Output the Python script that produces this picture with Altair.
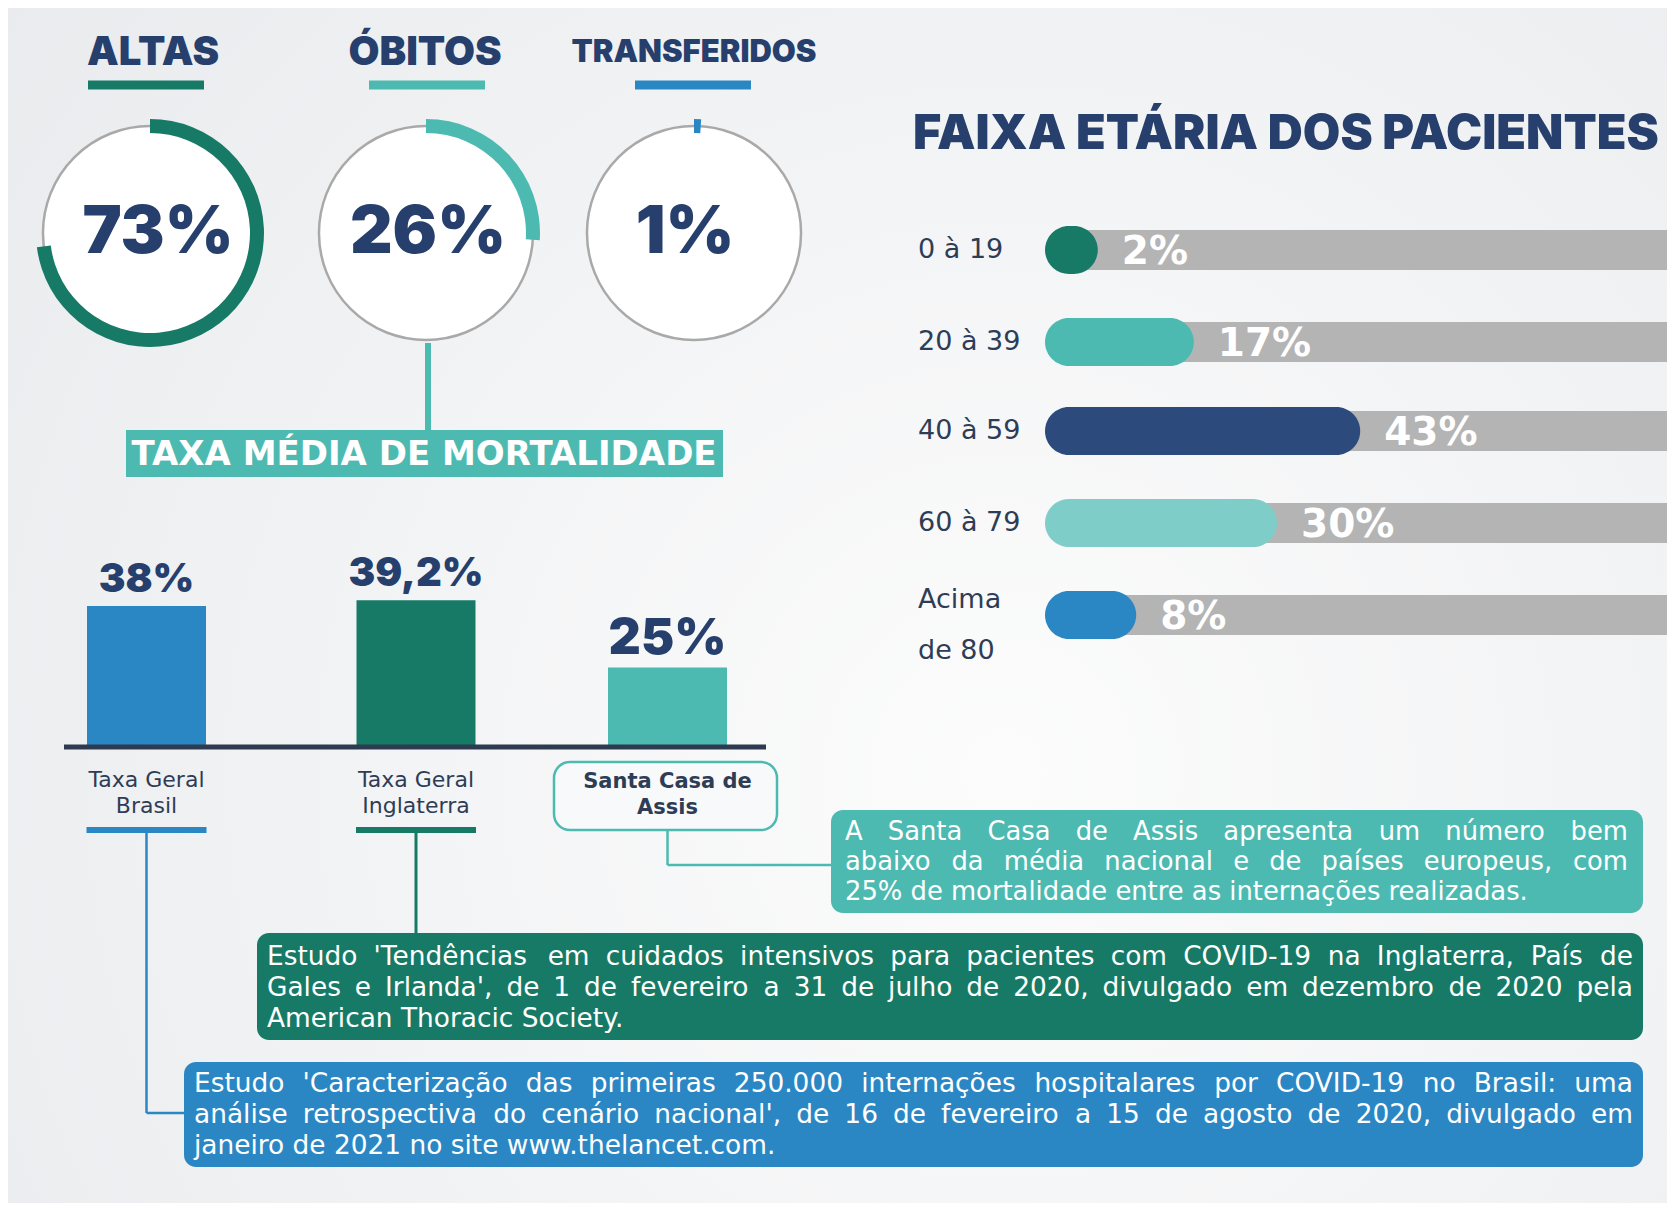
import unicodedata
import altair as alt
import pandas as pd

# ---------------- chart values ----------------
outcome_names = ["ALTAS", "ÓBITOS", "TRANSFERIDOS"]
outcome_pct = [73, 26, 1]

mortality_title = "TAXA MÉDIA DE MORTALIDADE"
mortality_names = ["Taxa Geral\nBrasil", "Taxa Geral\nInglaterra", "Santa Casa de\nAssis"]
mortality_pct = [38, 39.2, 25]
mortality_labels = ["38%", "39,2%", "25%"]

age_title = "FAIXA ETÁRIA DOS PACIENTES"
age_groups = ["0 à 19", "20 à 39", "40 à 59", "60 à 79", "Acima\nde 80"]
age_pct = [2, 17, 43, 30, 8]

note_santa = [
    "A Santa Casa de Assis apresenta um número bem",
    "abaixo da média nacional e de países europeus, com",
    "25% de mortalidade entre as internações realizadas.",
]
note_england = [
    "Estudo 'Tendências em cuidados intensivos para pacientes com COVID-19 na Inglaterra, País de",
    "Gales e Irlanda', de 1 de fevereiro a 31 de julho de 2020, divulgado em dezembro de 2020 pela",
    "American Thoracic Society.",
]
note_brazil = [
    "Estudo 'Caracterização das primeiras 250.000 internações hospitalares por COVID-19 no Brasil: uma",
    "análise retrospectiva do cenário nacional', de 16 de fevereiro a 15 de agosto de 2020, divulgado em",
    "janeiro de 2021 no site www.thelancet.com.",
]

# ---------------- styles ----------------
GREEN, TEAL, BLUE = "#177a66", "#4dbab2", "#2b87c4"
NAVY_BAR, LIGHT_TEAL = "#2c4b7c", "#7ecdc8"
TITLE_NAVY, TEXT_DARK = "#263f6c", "#2e3d55"
GRAY_BAR, RING_GRAY = "#b4b4b4", "#a9a9a9"
outcome_colors = [GREEN, TEAL, BLUE]
mortality_colors = [BLUE, GREEN, TEAL]
age_colors = [GREEN, TEAL, NAVY_BAR, LIGHT_TEAL, BLUE]
HEAD_FONT = "Inter"
WIDE_FONT = "DejaVu Sans"

# approximate DejaVu Sans advance widths (em) used to justify the note lines
_GLYPH = dict(a=.613, b=.635, c=.550, d=.635, e=.615, f=.352, g=.635, h=.634, i=.278, j=.278,
              k=.579, l=.278, m=.974, n=.634, o=.612, p=.635, q=.635, r=.411, s=.521, t=.392,
              u=.634, v=.592, w=.818, x=.592, y=.592, z=.525,
              A=.684, B=.686, C=.698, D=.770, E=.632, F=.575, G=.775, H=.752, I=.295, J=.295,
              K=.656, L=.557, M=.863, N=.748, O=.787, P=.603, Q=.787, R=.695, S=.635, T=.611,
              U=.732, V=.684, W=.989, X=.685, Y=.611, Z=.685)
_GLYPH.update({d: .636 for d in "0123456789"})
_GLYPH.update({" ": .318, ",": .318, ".": .318, "'": .275, ":": .337, "-": .361, "%": .950})


def text_width(s, size):
    total = 0.0
    for ch in s:
        base = unicodedata.normalize("NFD", ch)[0]
        total += _GLYPH.get(base, 0.6)
    return total * size


# ---------------- layout (page pixels) ----------------
W, H = 1659, 1195
X_MIN, Y_MIN = 8, 8
XS = alt.Scale(domain=[X_MIN, X_MIN + W], nice=False, zero=False)
YS = alt.Scale(domain=[Y_MIN, Y_MIN + H], nice=False, zero=False, reverse=True)


def ex(f):
    return alt.X(f, type="quantitative", scale=XS, axis=None)


def ey(f):
    return alt.Y(f, type="quantitative", scale=YS, axis=None)


def col(f):
    return alt.Color(f, type="nominal", scale=None, legend=None)


# outcome rings
ring_cx = [150, 426, 694]
RING_CY = 233
head_x = [153, 425, 694]
head_size = [40, 40, 31]
HEAD_Y = 53
uline_cx = [146, 427, 693]
ULINE_Y, ULINE_HALF = 85, 58
pct_dx = [8, 2, -9]

# mortality bars (infographic scale: offset + px per percentage point)
BASE_Y, BAR_HALF, PX_PER_PCT, PCT_OFFSET = 747, 59.5, 4.73, 8.2
bar_cx = [146.5, 416, 667.5]
bar_label_size = [40, 40, 50]

# age bars
AGE_X0, AGE_MIN_LEN, AGE_PX = 1045, 40, 6.4
age_row_y = [250, 342, 431, 523, 615]
age_label_y = [250, 342, 431, 523, 600]
GRAY_X0, GRAY_X1 = 1070, 1667

# ---------------- tables ----------------
df_out = pd.DataFrame({
    "name": outcome_names, "pct": outcome_pct, "color": outcome_colors,
    "cx": ring_cx, "cy": [RING_CY] * 3, "hx": head_x, "hy": [HEAD_Y] * 3, "hs": head_size,
    "u0": [c - ULINE_HALF for c in uline_cx], "u1": [c + ULINE_HALF for c in uline_cx],
    "uy": [ULINE_Y] * 3, "tx": [c + d for c, d in zip(ring_cx, pct_dx)],
})

df_mort = pd.DataFrame({
    "name": mortality_names, "pct": mortality_pct, "label": mortality_labels,
    "color": mortality_colors, "cx": bar_cx, "ls": bar_label_size, "idx": [0, 1, 2],
})

df_age = pd.DataFrame({
    "group": age_groups, "pct": age_pct, "color": age_colors,
    "y": age_row_y, "ly": age_label_y,
})

# (lines, colour, box x0, x1, y0, y1, text left, text right, line ys, font size)
notes = [(note_santa, TEAL, 831, 1643, 810, 913, 845, 1628, [831.5, 861.5, 891.5], 25.8),
         (note_england, GREEN, 257, 1643, 933, 1040, 267, 1633, [957, 988, 1019], 26.4),
         (note_brazil, BLUE, 184, 1643, 1062, 1167, 194, 1633, [1084, 1115, 1146], 26.4)]
df_boxes = pd.DataFrame([{"color": n[1], "x0": n[2], "x1": n[3], "y0": n[4], "y1": n[5]}
                         for n in notes])

line_rows = []
for (lines, _, _, _, _, _, tl, tr, lys, fs) in notes:
    for k, (t, ly) in enumerate(zip(lines, lys)):
        words = t.split(" ")
        if k == len(lines) - 1 or len(words) < 2:
            line_rows.append({"text": t, "x": tl, "y": ly, "fs": fs})
            continue
        widths = [text_width(w, fs) for w in words]
        gap = (tr - tl - sum(widths)) / (len(words) - 1)
        xpos = tl
        for w, wd in zip(words, widths):
            line_rows.append({"text": w, "x": xpos, "y": ly, "fs": fs})
            xpos += wd + gap
df_lines = pd.DataFrame(line_rows)

segments = pd.DataFrame([
    {"x": bar_cx[0], "y": 833, "x2": bar_cx[0], "y2": 1113, "color": BLUE, "w": 2.5},
    {"x": bar_cx[0], "y": 1113, "x2": 184, "y2": 1113, "color": BLUE, "w": 2.5},
    {"x": bar_cx[1], "y": 833, "x2": bar_cx[1], "y2": 933, "color": GREEN, "w": 3},
    {"x": bar_cx[2], "y": 830, "x2": bar_cx[2], "y2": 865, "color": TEAL, "w": 2.5},
    {"x": bar_cx[2], "y": 865, "x2": 831, "y2": 865, "color": TEAL, "w": 2.5},
    {"x": 428, "y": 343, "x2": 428, "y2": 430, "color": TEAL, "w": 6},
])

one = pd.DataFrame({"k": [0]})

# ---------------- layers ----------------
background = alt.Chart(one).mark_rect(
    fill={"gradient": "radial",
          "stops": [{"offset": 0, "color": "#fcfcfc"}, {"offset": 1, "color": "#e8eaed"}],
          "x1": 0.6, "y1": 0.6, "r1": 0, "x2": 0.6, "y2": 0.6, "r2": 0.8}
).encode(x=alt.value(0), x2=alt.value(W), y=alt.value(0), y2=alt.value(H))

heads = alt.Chart(df_out).mark_text(
    font=HEAD_FONT, fontWeight=900, color=TITLE_NAVY, align="center", baseline="middle"
).encode(x=ex("hx"), y=ey("hy"), text="name:N", size=alt.Size("hs:Q", scale=None, legend=None))

ulines = alt.Chart(df_out).mark_rule(strokeWidth=9).encode(
    x=ex("u0"), x2="u1:Q", y=ey("uy"), color=col("color"))

ring_bg = alt.Chart(df_out).transform_calculate(t0="0", t1="2*PI").mark_arc(
    fill="#ffffff", stroke=RING_GRAY, strokeWidth=2.5
).encode(x=ex("cx"), y=ey("cy"),
         theta=alt.Theta("t0:Q", scale=None), theta2=alt.Theta2("t1:Q"),
         radius=alt.value(107))

ring_fg = alt.Chart(df_out).transform_calculate(
    t0="0", t1="datum.pct / 100 * 2 * PI"
).mark_arc().encode(x=ex("cx"), y=ey("cy"),
                    theta=alt.Theta("t0:Q", scale=None), theta2=alt.Theta2("t1:Q"),
                    radius=alt.value(114), radius2=alt.value(100), color=col("color"))

ring_txt = alt.Chart(df_out).transform_calculate(lab="datum.pct + '%'").mark_text(
    font=HEAD_FONT, fontWeight=900, fontSize=66, color=TITLE_NAVY, baseline="middle"
).encode(x=ex("tx"), y=ey("cy"), text="lab:N")

connectors = alt.Chart(segments).mark_rule().encode(
    x=ex("x"), y=ey("y"), x2="x2:Q", y2="y2:Q", color=col("color"),
    strokeWidth=alt.StrokeWidth("w:Q", scale=None, legend=None))

taxa_box = alt.Chart(pd.DataFrame({"x0": [126], "x1": [723], "y0": [430], "y1": [477]})).mark_rect(
    color=TEAL).encode(x=ex("x0"), x2="x1:Q", y=ey("y0"), y2="y1:Q")
taxa_txt = alt.Chart(pd.DataFrame({"t": [mortality_title], "x": [424], "y": [455]})).mark_text(
    font=WIDE_FONT, fontWeight="bold", fontSize=34, color="#ffffff", baseline="middle"
).encode(x=ex("x"), y=ey("y"), text="t:N")

mort_base = alt.Chart(df_mort).transform_calculate(
    x0=f"datum.cx - {BAR_HALF}", x1=f"datum.cx + {BAR_HALF}",
    top=f"{BASE_Y} - (datum.pct - {PCT_OFFSET}) * {PX_PER_PCT}", base=f"{BASE_Y}",
    ly=f"{BASE_Y} - (datum.pct - {PCT_OFFSET}) * {PX_PER_PCT} - 14",
)
mort_bars = mort_base.mark_rect().encode(
    x=ex("x0"), x2="x1:Q", y=ey("top"), y2="base:Q", color=col("color"))
mort_vals = mort_base.mark_text(
    font=HEAD_FONT, fontWeight=900, color=TITLE_NAVY, baseline="alphabetic"
).encode(x=ex("cx"), y=ey("ly"), text="label:N", size=alt.Size("ls:Q", scale=None, legend=None))
axis_line = alt.Chart(pd.DataFrame({"x0": [64], "x1": [766], "y": [BASE_Y]})).mark_rule(
    strokeWidth=5, color="#2d3a4f").encode(x=ex("x0"), x2="x1:Q", y=ey("y"))

cat_base = alt.Chart(df_mort).transform_calculate(
    u0="datum.cx - 60", u1="datum.cx + 60", uy="830", ty="780")
cat_txt = cat_base.transform_filter("datum.idx < 2").mark_text(
    font=WIDE_FONT, fontSize=22, color=TEXT_DARK, lineBreak="\n",
    lineHeight=25.5, baseline="middle").encode(x=ex("cx"), y=ey("ty"), text="name:N")
cat_ul = cat_base.transform_filter("datum.idx < 2").mark_rule(strokeWidth=6).encode(
    x=ex("u0"), x2="u1:Q", y=ey("uy"), color=col("color"))
santa_box = alt.Chart(pd.DataFrame({"x0": [554], "x1": [777], "y0": [762], "y1": [830]})).mark_rect(
    fill="#f8f9fa", stroke=TEAL, strokeWidth=2.5, cornerRadius=16
).encode(x=ex("x0"), x2="x1:Q", y=ey("y0"), y2="y1:Q")
santa_txt = cat_base.transform_filter("datum.idx == 2").transform_calculate(ty2="782").mark_text(
    font=WIDE_FONT, fontWeight="bold", fontSize=21, color=TEXT_DARK, lineBreak="\n",
    lineHeight=26, baseline="middle").encode(x=ex("cx"), y=ey("ty2"), text="name:N")

note_boxes = alt.Chart(df_boxes).mark_rect(cornerRadius=12).encode(
    x=ex("x0"), x2="x1:Q", y=ey("y0"), y2="y1:Q", color=col("color"))
note_txt = alt.Chart(df_lines).mark_text(
    font=WIDE_FONT, color="#ffffff", align="left", baseline="middle"
).encode(x=ex("x"), y=ey("y"), text="text:N", size=alt.Size("fs:Q", scale=None, legend=None))

age_ttl = alt.Chart(pd.DataFrame({"t": [age_title], "x": [913], "y": [134]})).mark_text(
    font=HEAD_FONT, fontWeight=900, fontSize=48.5, color=TITLE_NAVY, align="left", baseline="middle"
).encode(x=ex("x"), y=ey("y"), text="t:N")

age_base = alt.Chart(df_age).transform_calculate(
    gx0=f"{GRAY_X0}", gx1=f"{GRAY_X1}", gy0="datum.y - 20", gy1="datum.y + 20",
    bx0=f"{AGE_X0}", bx1=f"{AGE_X0} + {AGE_MIN_LEN} + datum.pct * {AGE_PX}",
    by0="datum.y - 24", by1="datum.y + 24",
    vx=f"{AGE_X0} + {AGE_MIN_LEN} + datum.pct * {AGE_PX} + 24", vy="datum.y + 2",
    lx="918", lab="datum.pct + '%'",
)
age_gray = age_base.mark_rect(color=GRAY_BAR).encode(
    x=ex("gx0"), x2="gx1:Q", y=ey("gy0"), y2="gy1:Q")
age_bars = age_base.mark_rect(cornerRadius=24).encode(
    x=ex("bx0"), x2="bx1:Q", y=ey("by0"), y2="by1:Q", color=col("color"))
age_vals = age_base.mark_text(
    font=WIDE_FONT, fontWeight="bold", fontSize=39, color="#ffffff", align="left", baseline="middle"
).encode(x=ex("vx"), y=ey("vy"), text="lab:N")
age_lbl = age_base.mark_text(
    font=WIDE_FONT, fontSize=27, color=TEXT_DARK, align="left", baseline="middle",
    lineBreak="\n", lineHeight=51
).encode(x=ex("lx"), y=ey("ly"), text="group:N")

chart = alt.layer(
    background, heads, ulines, connectors, ring_bg, ring_fg, ring_txt, taxa_box, taxa_txt,
    mort_bars, axis_line, mort_vals, cat_txt, cat_ul, santa_box, santa_txt,
    note_boxes, note_txt, age_ttl, age_gray, age_bars, age_vals, age_lbl,
).properties(
    width=W, height=H, padding=0, autosize=alt.AutoSizeParams(type="none")
).configure_view(stroke=None).configure(background="#eef0f2")

chart.save("out.html", embed_options={"renderer": "svg", "actions": False})
